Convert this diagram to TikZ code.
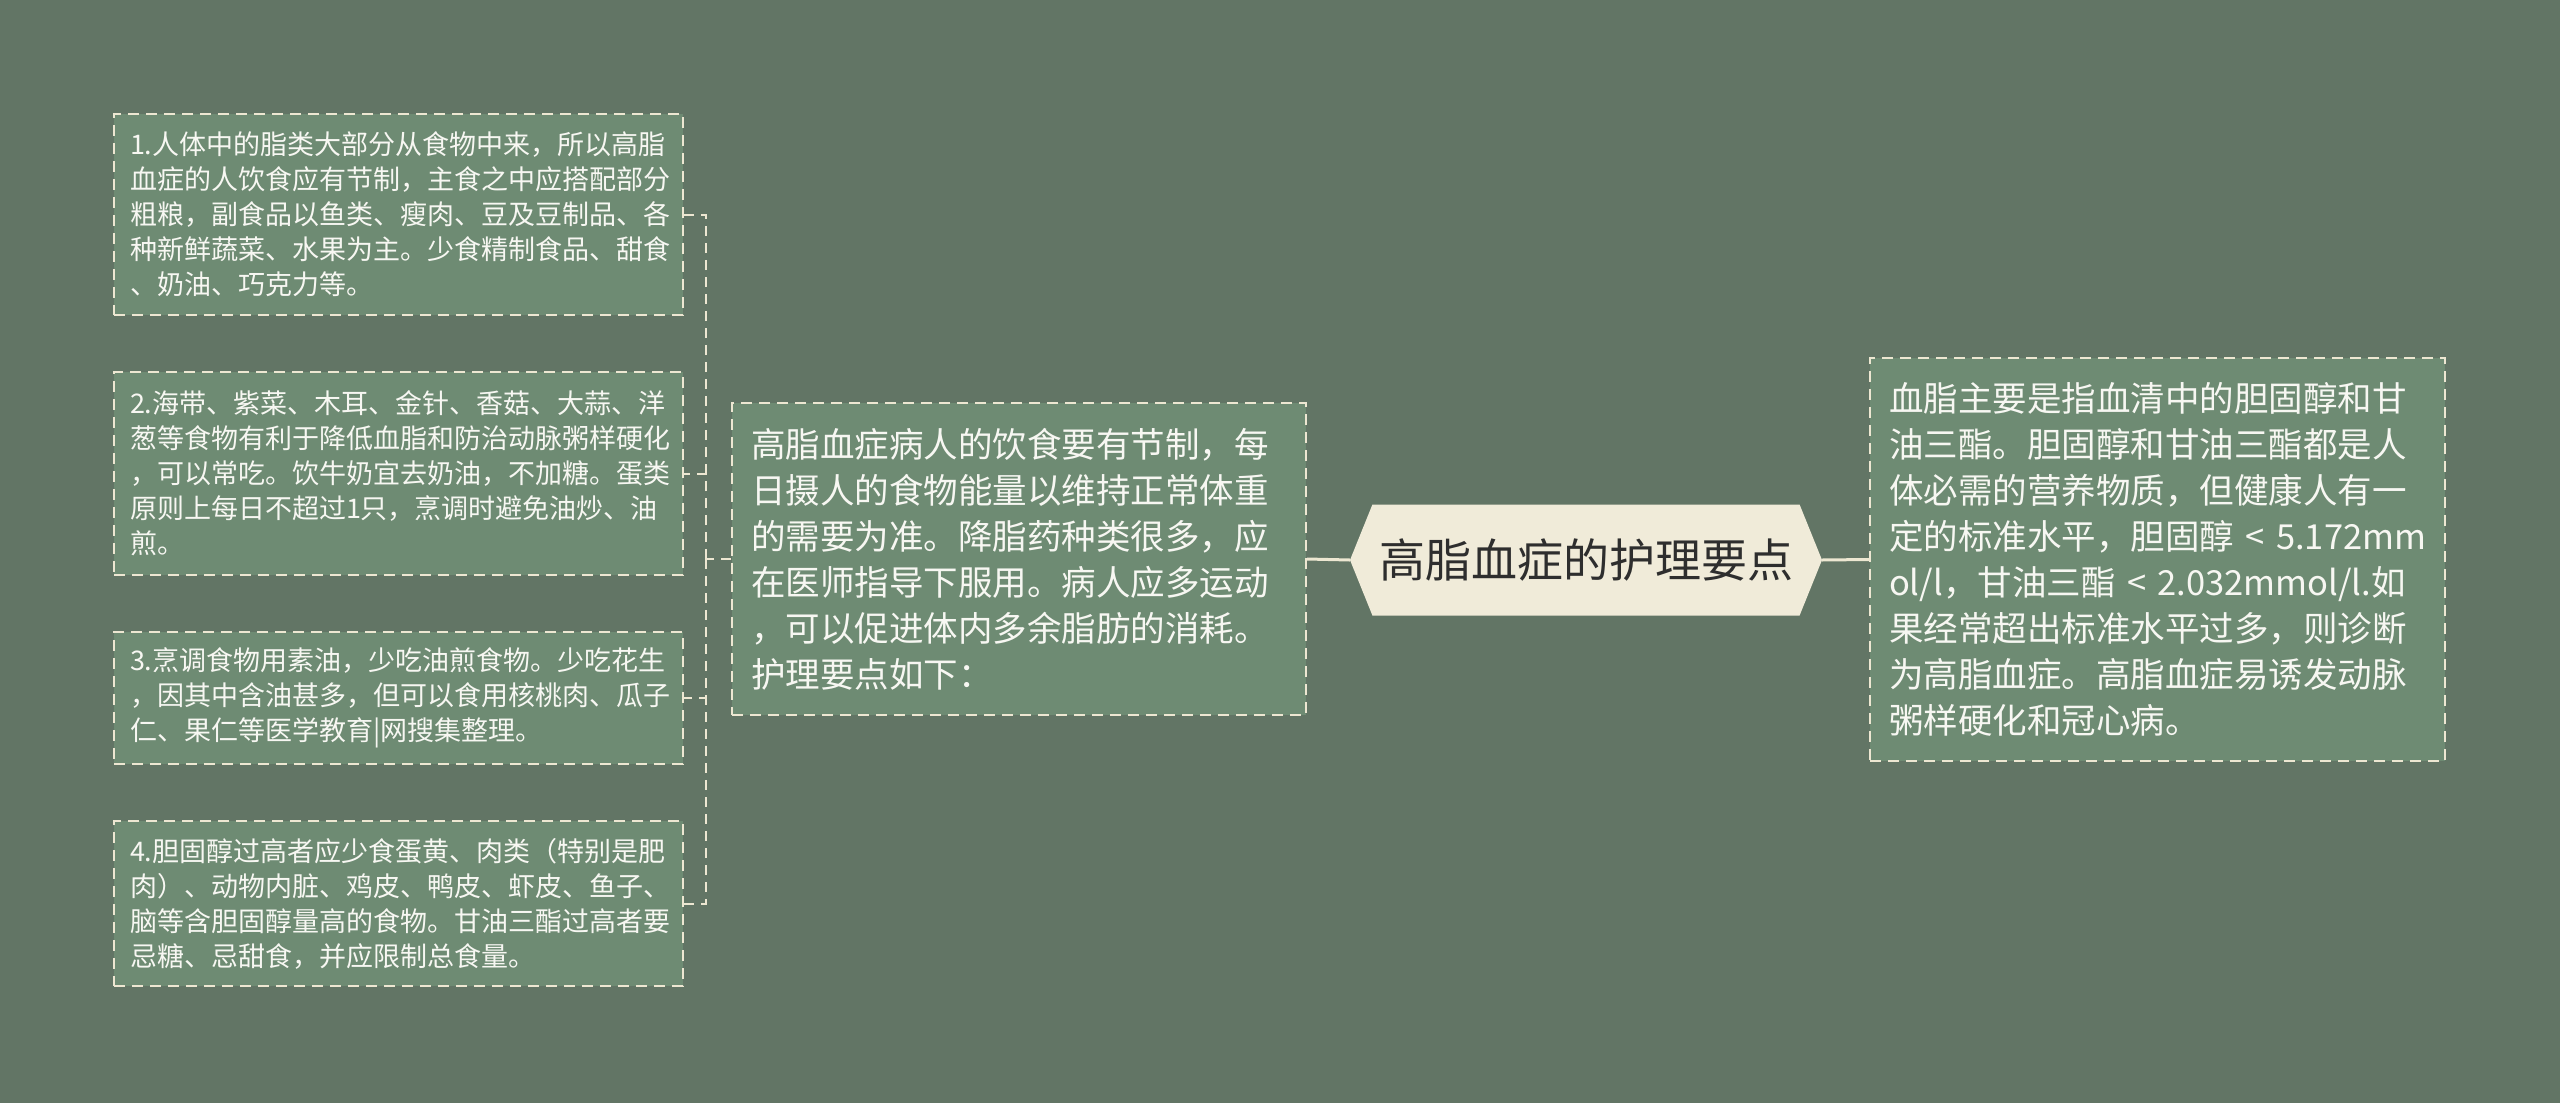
\documentclass[tikz,border=0pt]{standalone}
\usepackage{fontspec}
\setmainfont{Noto Sans CJK SC}
\usetikzlibrary{shapes.symbols}

\definecolor{bgcol}{HTML}{627565}
\definecolor{boxcol}{HTML}{6E8B73}
\definecolor{linecol}{HTML}{EDE7D2}
\definecolor{rootcol}{HTML}{F0EBD9}
\definecolor{rootink}{HTML}{2E2E2E}
\definecolor{boxink}{HTML}{F7F7F2}

\begin{document}
\begin{tikzpicture}[x=1pt,y=-1pt]

        \fill[bgcol] (0,0) rectangle (2560,1103);
        \useasboundingbox (0,0) rectangle (2560,1103);

        % the four points on the left
        \begin{scope}[every node/.style={draw=linecol,fill=boxcol,line width=2pt,dash pattern=on 11pt off 7pt,
                text=boxink,align=left,inner xsep=16pt,minimum width=569pt,text width=537pt,
                font={\fontsize{27}{35}\selectfont}}]
            \node[minimum height=201pt] (tip1) at (398.5,214.5) {1.人体中的脂类大部分从食物中来，所以高脂\\血症的人饮食应有节制，主食之中应搭配部分\\粗粮，副食品以鱼类、瘦肉、豆及豆制品、各\\种新鲜蔬菜、水果为主。少食精制食品、甜食\\、奶油、巧克力等。};
            \node[minimum height=203pt] (tip2) at (398.5,473.5) {2.海带、紫菜、木耳、金针、香菇、大蒜、洋\\葱等食物有利于降低血脂和防治动脉粥样硬化\\，可以常吃。饮牛奶宜去奶油，不加糖。蛋类\\原则上每日不超过1只，烹调时避免油炒、油\\煎。};
            \node[minimum height=132pt] (tip3) at (398.5,698) {3.烹调食物用素油，少吃油煎食物。少吃花生\\，因其中含油甚多，但可以食用核桃肉、瓜子\\仁、果仁等医学教育|网搜集整理。};
            \node[minimum height=165pt] (tip4) at (398.5,903.5) {4.胆固醇过高者应少食蛋黄、肉类（特别是肥\\肉）、动物内脏、鸡皮、鸭皮、虾皮、鱼子、\\脑等含胆固醇量高的食物。甘油三酯过高者要\\忌糖、忌甜食，并应限制总食量。};
        \end{scope}

        % diet text and definition text
        \begin{scope}[every node/.style={draw=linecol,fill=boxcol,line width=2pt,dash pattern=on 11pt off 7pt,
                text=boxink,align=left,inner xsep=19pt,font={\fontsize{34.5}{46}\selectfont}}]
            \node[minimum width=574pt,minimum height=312pt,text width=536pt] (diet) at (1019,559) {高脂血症病人的饮食要有节制，每\\日摄人的食物能量以维持正常体重\\的需要为准。降脂药种类很多，应\\在医师指导下服用。病人应多运动\\，可以促进体内多余脂肪的消耗。\\护理要点如下：};
            \node[minimum width=575pt,minimum height=403pt,text width=537pt] (info) at (2157.5,559.5) {血脂主要是指血清中的胆固醇和甘\\油三酯。胆固醇和甘油三酯都是人\\体必需的营养物质，但健康人有一\\定的标准水平，胆固醇~<~5.172mm\\ol/l，甘油三酯~<~2.032mmol/l.如\\果经常超出标准水平过多，则诊断\\为高脂血症。高脂血症易诱发动脉\\粥样硬化和冠心病。};
        \end{scope}

        % root
        \node[signal,signal to=west and east,signal pointer angle=136,fill=rootcol,text=rootink,inner sep=0pt,
            minimum width=472pt,minimum height=111pt,font={\fontsize{46}{55}\selectfont}] (root) at (1586,560) {高脂血症的护理要点};

        % connectors
        \begin{scope}[every path/.style={draw=linecol,line width=2pt}]
            \coordinate (hub) at ([xshift=-25pt]diet.west);
            \draw[dash pattern=on 10pt off 7pt] (diet.west) -- (hub);
            \foreach \t in {tip1,tip2,tip3,tip4}
                \draw[dash pattern=on 10pt off 7pt] (hub) |- (\t.east);
            \draw[line width=3pt] (diet.east) -- (root.west);
            \draw[line width=3pt] (root.east) -- (info.west);
        \end{scope}

    \end{tikzpicture}
\end{document}
